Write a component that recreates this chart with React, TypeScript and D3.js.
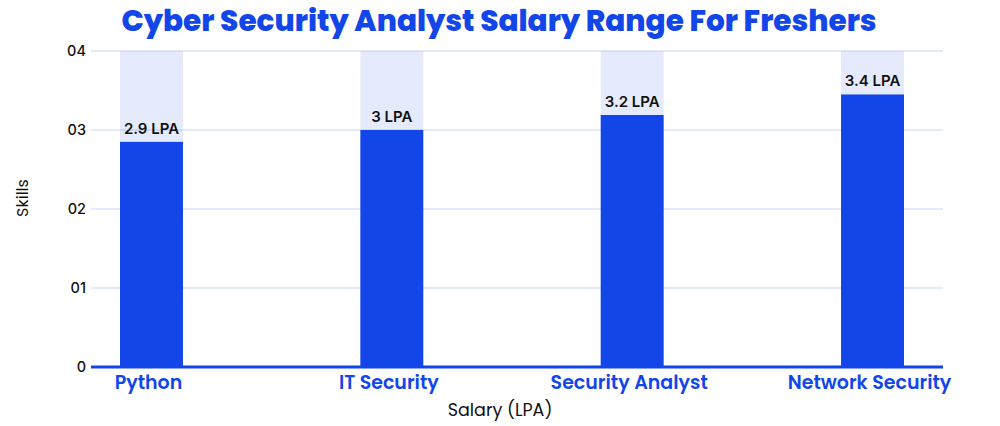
import * as d3 from "d3";

const categories = ["Python", "IT Security", "Security Analyst", "Network Security"];
const salaries = [2.85, 3.0, 3.19, 3.45];
const valueLabels = ["2.9 LPA", "3 LPA", "3.2 LPA", "3.4 LPA"];
const yTicks = [0, 1, 2, 3, 4];
const yTickLabels = ["0", "01", "02", "03", "04"];

const W = 1000;
const H = 426;
const BLUE = "#1246e8";
const FONT = "Poppins, Inter, 'Noto Sans', sans-serif";
const FONT2 = "Inter, 'Noto Sans', sans-serif";

export default function App() {
  const left = 91;
  const right = 943;
  const top = 51;
  const bottom = 367;

  const x = d3.scaleBand().domain(categories).range([120, 904]).paddingInner(0.738).paddingOuter(0);
  const y = d3.scaleLinear().domain([0, 4]).range([bottom, top]);

  return (
    <svg width={W} height={H} style={{position: "absolute", left: 0, top: 0, background: "#fff"}}>
      <text x={499} y={31} textAnchor="middle" fill={BLUE} fontFamily={FONT} fontWeight={800} fontSize={29.5}>
        Cyber Security Analyst Salary Range For Freshers
      </text>

      {yTicks.filter(t => t > 0).map(t => (
        <line key={t} x1={left} x2={right} y1={y(t)} y2={y(t)} stroke="#cdd7f6" strokeWidth={1}/>
      ))}
      {yTicks.map((t, i) => (
        <text key={t} x={86} y={y(t) + 5} textAnchor="end" fontFamily={FONT2} fontWeight={500} fontSize={14.5} fill="#111">
          {yTickLabels[i]}
        </text>
      ))}

      {categories.map((c, i) => {
        const bx = x(c) ?? 0;
        const cx = bx + x.bandwidth() / 2;
        return (
          <g key={c}>
            <rect x={bx} y={y(4)} width={x.bandwidth()} height={y(salaries[i]) - y(4)} fill={BLUE} fillOpacity={0.11}/>
            <rect x={bx} y={y(salaries[i])} width={x.bandwidth()} height={bottom - y(salaries[i])} fill={BLUE}/>
            <text x={cx} y={y(salaries[i]) - 8} textAnchor="middle" fontFamily={FONT2} fontWeight={600} fontSize={15} fill="#111">
              {valueLabels[i]}
            </text>
            <text x={cx - 3} y={389} textAnchor="middle" fontFamily={FONT} fontWeight={600} fontSize={19} fill={BLUE}>
              {c}
            </text>
          </g>
        );
      })}

      <line x1={left} x2={right} y1={bottom} y2={bottom} stroke={BLUE} strokeWidth={3}/>

      <text x={500} y={416} textAnchor="middle" fontFamily={FONT} fontSize={17.5} fill="#111">Salary (LPA)</text>
      <text transform={`translate(28,198) rotate(-90)`} textAnchor="middle" fontFamily={FONT} fontSize={16} fill="#111">Skills</text>
    </svg>
  );
}
